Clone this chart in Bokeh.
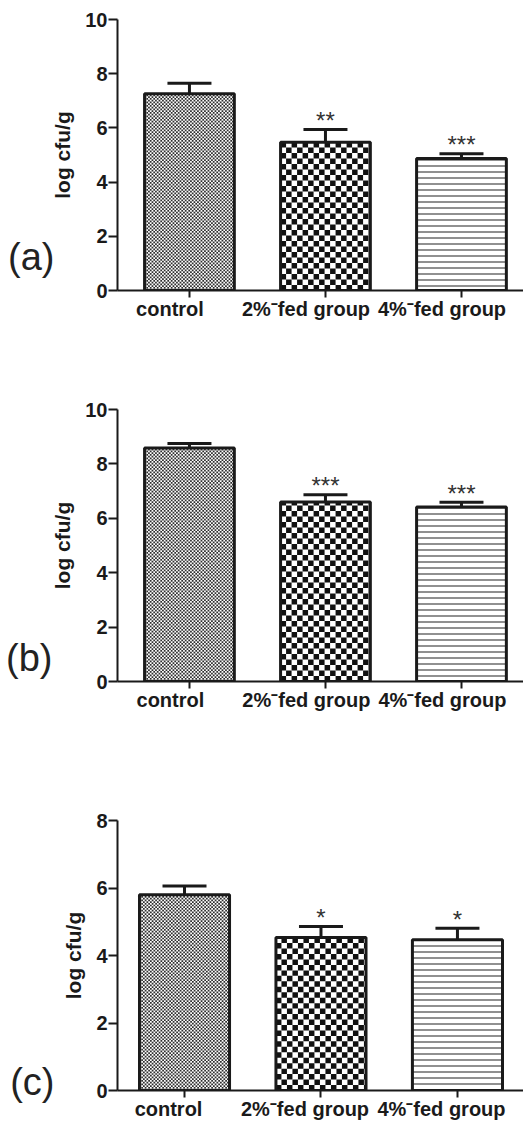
import numpy as np
from bokeh.plotting import figure
from bokeh.layouts import column
from bokeh.models import ColumnDataSource, FixedTicker, LinearAxis, Range1d, Whisker, TeeHead
from bokeh.core.properties import value, field
from bokeh.embed import file_html
from bokeh.resources import INLINE

# ---------------- data ----------------
categories = ["control", "2%⁻fed group", "4%⁻fed group"]

means_a = [7.26, 5.47, 4.87]
sem_a = [0.39, 0.47, 0.18]
stars_a = ["", "**", "***"]

means_b = [8.58, 6.60, 6.42]
sem_b = [0.17, 0.27, 0.17]
stars_b = ["", "***", "***"]

means_c = [5.80, 4.53, 4.47]
sem_c = [0.26, 0.33, 0.34]
stars_c = ["", "*", "*"]

yticks_ab = [0, 2, 4, 6, 8, 10]
yticks_c = [0, 2, 4, 6, 8]
panel_names = ["(a)", "(b)", "(c)"]
y_label = "log cfu/g"

# ---------------- styles ----------------
FONT = "Liberation Sans"
INK = "#1a1a1a"
FIG_W = 523
LEFT = 117
BAR_W = 0.66
# fill style per bar: checker cell size in px (0 = none), checker colour, hatch
cell_px = [1.75, 5.5, 0]
cell_color = ["#2e2e2e", "#111111", None]
bar_hatch = [" ", " ", "horizontal_line"]


def checker_quads(xc, w, h, cx, cy):
    ncol = int(np.ceil(w / cx))
    nrow = int(np.ceil(h / cy))
    k, r = np.meshgrid(np.arange(ncol), np.arange(nrow))
    m = ((k + r) % 2) == 0
    k = k[m]
    r = r[m]
    left = xc - w / 2 + k * cx
    right = np.minimum(left + cx, xc + w / 2)
    bottom = r * cy
    top = np.minimum(bottom + cy, h)
    return left, right, bottom, top


def make_panel(means, sems, stars, yticks, name, height, top_border, frame_h,
               xr, label_shift, name_y, name_standoff):
    n = len(categories)
    xs = list(range(n))
    src = ColumnDataSource(dict(
        x=xs, top=means, err=[m + s for m, s in zip(means, sems)], stars=stars,
        pat=bar_hatch,
    ))
    p = figure(width=FIG_W, height=height, output_backend="svg", toolbar_location=None,
               x_range=Range1d(*xr), y_range=Range1d(yticks[0], yticks[-1]),
               min_border_left=LEFT, min_border_right=0,
               min_border_top=top_border, min_border_bottom=height - top_border - frame_h)
    p.outline_line_color = None
    p.xgrid.visible = False
    p.ygrid.visible = False
    p.background_fill_color = "white"

    px_x = (FIG_W - LEFT) / (xr[1] - xr[0])
    px_y = frame_h / (yticks[-1] - yticks[0])

    wh = Whisker(base="x", upper="err", lower="top", source=src, dimension="height",
                 line_color=INK, line_width=3,
                 upper_head=TeeHead(size=44, line_color=INK, line_width=3), lower_head=None,
                 level="underlay")
    p.add_layout(wh)

    p.vbar(x="x", top="top", bottom=0, width=BAR_W, source=src,
           fill_color="white", line_color=None,
           hatch_pattern=field("pat"), hatch_scale=6, hatch_weight=1.2,
           hatch_color="#444444")

    for i in range(n):
        if cell_px[i] > 0:
            l, r, b, t = checker_quads(xs[i], BAR_W, means[i], cell_px[i] / px_x, cell_px[i] / px_y)
            p.quad(left=l, right=r, bottom=b, top=t, fill_color=cell_color[i], line_color=None)

    p.vbar(x="x", top="top", bottom=0, width=BAR_W, source=src,
           fill_color=None, line_color=INK, line_width=3)

    p.text(x="x", y="err", text="stars", source=src, text_align="center",
           text_baseline="alphabetic", text_font=value(FONT), text_font_size="24px",
           text_color="#333333", y_offset=-9)

    # x axis: tick marks at bar centres (minor ticks), labels set slightly left (major ticks)
    label_pos = [x + label_shift for x in xs]
    xa = p.xaxis[0]
    xa.ticker = FixedTicker(ticks=label_pos, minor_ticks=xs)
    xa.major_label_overrides = {lp: c for lp, c in zip(label_pos, categories)}
    xa.major_tick_out = 7
    xa.major_tick_in = 0
    xa.major_tick_line_color = None
    xa.minor_tick_out = 7
    xa.minor_tick_in = 0
    xa.minor_tick_line_width = 2
    xa.minor_tick_line_color = INK
    xa.axis_line_width = 2
    xa.axis_line_color = INK
    xa.major_label_text_font = FONT
    xa.major_label_text_font_style = "bold"
    xa.major_label_text_font_size = "20px"
    xa.major_label_text_color = INK
    xa.major_label_standoff = 0

    ya = p.yaxis[0]
    ya.ticker = FixedTicker(ticks=yticks)
    ya.major_tick_out = 9
    ya.major_tick_in = 0
    ya.minor_tick_line_color = None
    ya.axis_line_width = 2
    ya.axis_line_color = INK
    ya.major_tick_line_width = 2
    ya.major_tick_line_color = INK
    ya.major_label_text_font = FONT
    ya.major_label_text_font_style = "bold"
    ya.major_label_text_font_size = "20px"
    ya.major_label_text_color = INK
    ya.major_label_standoff = 1
    ya.axis_label = y_label
    ya.axis_label_text_font = FONT
    ya.axis_label_text_font_style = "bold"
    ya.axis_label_text_font_size = "21px"
    ya.axis_label_text_color = INK
    ya.axis_label_standoff = 8

    # panel letter, drawn as a single-tick outer axis on the left
    la = LinearAxis(ticker=FixedTicker(ticks=[name_y]),
                    major_label_overrides={name_y: name},
                    axis_line_color=None, major_tick_line_color=None,
                    minor_tick_line_color=None, major_tick_out=0, major_tick_in=0,
                    major_label_standoff=name_standoff,
                    major_label_text_font=FONT, major_label_text_font_size="38px",
                    major_label_text_font_style="normal", major_label_text_color="#222222")
    p.add_layout(la, "left")
    return p


pa = make_panel(means_a, sem_a, stars_a, yticks_ab, panel_names[0], 390, 19, 271,
                (-0.529, 2.456), -0.143, 1.25, -6)
pb = make_panel(means_b, sem_b, stars_b, yticks_ab, panel_names[1], 390, 19, 272,
                (-0.529, 2.456), -0.14, 0.88, -4)
pc = make_panel(means_c, sem_c, stars_c, yticks_c, panel_names[2], 342, 40, 272,
                (-0.491, 2.484), -0.117, 0.25, 5)

layout = column(pa, pb, pc, spacing=0)
open("out.html", "w").write(file_html(layout, INLINE))
